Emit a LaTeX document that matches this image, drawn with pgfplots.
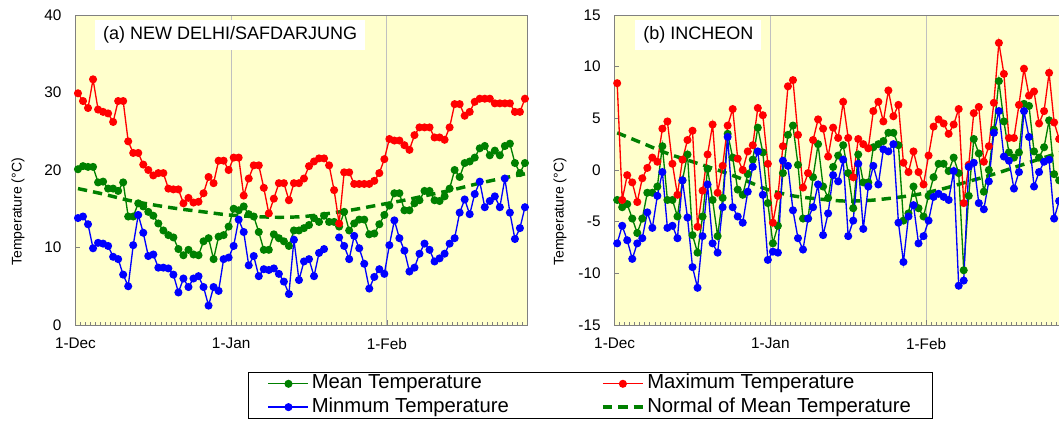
\documentclass[border=0pt]{standalone}
\usepackage{fontspec}
\setmainfont{Liberation Sans}
\usepackage{pgfplots}
\pgfplotsset{compat=1.18}
\usepackage{pgfplotstable}

\definecolor{bgy}{RGB}{255,255,204}
\definecolor{cgreen}{RGB}{0,128,0}
\definecolor{cred}{RGB}{255,0,0}
\definecolor{cblue}{RGB}{0,0,255}
\definecolor{framegray}{RGB}{128,128,128}
\definecolor{gridgray}{RGB}{192,192,192}

\pgfplotstableread{
d max mean min
0 29.9 20.1 13.8
1 28.9 20.5 14.0
2 28.0 20.4 13.0
3 31.7 20.4 9.9
4 27.8 18.4 10.6
5 27.5 18.5 10.5
6 27.3 17.6 10.2
7 26.2 17.6 8.8
8 28.9 17.3 8.5
9 28.9 18.4 6.5
10 23.7 14.0 5.0
11 22.2 14.0 10.3
12 22.2 15.7 14.2
13 20.7 15.3 11.9
14 20.0 14.6 8.9
15 19.3 14.1 9.1
16 19.6 13.1 7.4
17 19.6 12.2 7.4
18 17.6 11.6 7.3
19 17.5 11.3 6.5
20 17.5 9.8 4.2
21 15.7 9.0 6.0
22 16.4 9.7 4.9
23 15.8 9.1 6.0
24 15.9 9.0 6.3
25 17.0 10.8 4.9
26 19.1 11.2 2.5
27 18.3 8.5 4.9
28 21.2 11.4 4.4
29 21.2 11.6 8.5
30 20.0 12.7 8.7
31 21.6 15.0 10.2
32 21.6 14.8 13.6
33 16.7 15.3 12.0
34 18.9 14.3 7.7
35 20.6 14.0 8.9
36 20.6 12.0 6.3
37 17.7 9.7 7.2
38 14.4 9.7 7.1
39 16.3 11.7 7.3
40 18.3 11.2 6.6
41 18.3 10.8 5.6
42 16.1 10.2 4.0
43 18.3 12.2 11.0
44 18.3 12.2 5.8
45 18.9 12.5 8.2
46 20.5 12.9 8.5
47 21.1 13.8 6.3
48 21.5 13.3 9.3
49 21.5 14.1 9.8
50 20.6 13.3 nan
51 17.4 13.3 nan
52 13.1 12.7 11.3
53 19.7 14.6 10.2
54 19.7 12.2 8.5
55 18.2 13.1 11.5
56 18.2 13.6 9.9
57 18.2 13.6 7.9
58 18.2 11.7 4.7
59 18.6 11.8 6.2
60 19.6 13.0 7.2
61 21.4 14.2 6.6
62 24.0 15.4 10.3
63 23.8 17.0 13.5
64 23.8 17.0 11.2
65 23.2 14.8 9.6
66 22.6 14.8 6.9
67 24.5 15.7 7.4
68 25.5 16.1 9.2
69 25.5 17.3 10.5
70 25.5 17.3 9.7
71 24.2 16.1 8.2
72 24.2 16.0 8.6
73 23.9 16.6 9.2
74 25.5 17.6 10.5
75 28.5 20.0 11.2
76 28.5 19.1 14.5
77 27.0 20.9 16.2
78 27.5 21.1 14.3
79 28.8 21.6 16.9
80 29.2 22.8 18.5
81 29.2 23.1 15.2
82 29.2 21.9 16.0
83 28.6 22.5 16.6
84 28.6 21.9 15.2
85 28.6 23.1 18.9
86 28.6 23.4 14.5
87 27.5 20.9 11.1
88 27.5 19.6 12.5
89 29.2 20.9 15.2
}\delhi

\pgfplotstableread{
d norm
0 17.6
5 16.9
10 16.1
15 15.5
20 15.0
25 14.6
30 14.2
35 14.0
40 13.9
45 14.0
50 14.4
55 14.9
60 15.5
65 16.1
70 16.8
75 17.5
80 18.3
85 19.0
89 19.5
}\delhinorm

\pgfplotstableread{
d max mean min
0 8.4 -2.9 -7.1
1 -2.9 -3.6 -5.4
2 -0.5 -3.3 -6.8
3 -1.2 -4.7 -8.6
4 -3.1 -6.1 -7.1
5 -0.8 -4.7 -6.6
6 0.2 -2.2 -4.1
7 1.2 -2.2 -5.6
8 0.8 -1.6 -2.5
9 4.0 2.3 -0.2
10 4.7 -2.9 -5.6
11 0.6 -2.9 -5.4
12 -2.4 -4.5 -6.6
13 1.0 -1.0 -1.0
14 2.9 1.5 -4.6
15 3.8 -6.3 -9.4
16 -5.5 -8.0 -11.4
17 -2.0 -4.5 -6.4
18 1.5 0.1 -1.4
19 4.4 -2.9 -7.1
20 -2.2 -6.4 -8.0
21 0.4 -2.7 -3.6
22 4.3 3.5 3.2
23 5.9 1.2 -3.6
24 1.1 -1.9 -4.5
25 0.0 -2.4 -5.1
26 1.8 -0.4 -2.1
27 2.4 1.0 0.3
28 6.0 4.1 1.8
29 5.3 1.7 -2.4
30 0.6 -3.2 -8.7
31 -5.1 -7.1 -7.9
32 -2.5 -5.4 -8.0
33 2.3 -0.3 0.9
34 8.1 3.4 0.4
35 8.7 4.3 -3.9
36 3.4 0.5 -6.6
37 -1.7 -4.7 -7.7
38 -0.3 -4.7 -4.7
39 2.9 -0.7 -3.6
40 4.9 2.5 -1.4
41 4.0 -1.6 -6.3
42 1.3 -2.7 -4.2
43 4.1 0.3 -0.5
44 3.1 1.4 -1.1
45 6.6 2.4 1.0
46 3.1 -0.3 -6.4
47 -0.7 -3.7 -4.9
48 3.0 1.5 0.6
49 2.5 -1.2 -5.7
50 2.1 -1.2 -1.6
51 5.7 2.2 0.4
52 6.6 2.5 -1.4
53 4.7 2.8 2.0
54 7.7 3.6 1.8
55 5.2 3.6 2.5
56 6.3 2.4 -5.1
57 0.7 -4.9 -8.9
58 -0.2 -4.2 -4.5
59 1.8 -1.6 -3.4
60 -0.2 -3.7 -7.1
61 -1.4 -4.5 -6.4
62 1.4 -2.5 -4.9
63 4.2 -0.7 -2.6
64 4.9 0.6 -2.3
65 4.5 0.6 -2.6
66 3.5 -0.1 -2.9
67 4.4 1.2 -0.1
68 5.9 -0.3 -11.2
69 -3.2 -9.7 -10.7
70 0.5 -2.5 0.3
71 5.5 3.0 0.7
72 6.1 1.6 -3.2
73 0.8 -2.1 -3.8
74 2.3 0.0 -1.1
75 6.5 3.9 3.6
76 12.3 8.6 5.7
77 9.3 4.7 1.3
78 3.1 1.7 0.9
79 3.1 1.2 -1.8
80 6.3 1.7 -0.2
81 9.8 6.4 5.7
82 7.2 6.2 3.2
83 7.6 1.8 -1.6
84 4.5 1.2 -0.2
85 5.7 2.2 0.8
86 9.4 4.8 1.0
87 4.6 -0.4 -4.7
88 3.0 -1.0 -3.0
89 5.0 1.0 -1.5
}\incheon

\pgfplotstableread{
d norm
0 3.6
5 2.6
10 1.6
15 0.8
20 0.0
25 -0.9
30 -1.9
35 -2.5
40 -2.8
45 -3.0
50 -2.95
55 -2.7
60 -2.35
65 -1.8
70 -1.1
75 -0.4
80 0.4
85 1.2
89 1.8
}\incheonnorm

\pgfplotsset{
  panel/.style={
    scale only axis, width=339pt, height=232.5pt,
    xmin=0, xmax=90,
    axis background/.style={fill=bgy},
    axis line style={draw=framegray, line width=0.7pt},
    xtick={0,31,62}, xticklabels={1-Dec,1-Jan,1-Feb},
    minor xtick={1,2,...,89},
    xmajorgrids, major grid style={draw=gridgray, line width=0.7pt},
    tick align=inside, tick pos=left,
    major tick length=3.5pt, minor tick length=2pt,
    tick style={draw=framegray, line width=0.5pt},
    ticklabel style={font=\fontsize{11.5}{13}\selectfont, black},
    xticklabel style={yshift=-6.5pt},
    yticklabel style={xshift=-7pt},
    /pgf/number format/assume math mode=true,
    ylabel={Temperature (°C)},
    unbounded coords=jump,
    legend image code/.code={\draw[mark repeat=2,mark phase=2,##1] plot coordinates {(0pt,0pt) (15pt,0pt) (30pt,0pt)};},
  },
  tmean/.style={cgreen, line width=1pt, mark=*, mark size=2.5pt, mark options={solid, fill=cgreen, draw=cgreen}},
  tmax/.style={cred, line width=1pt, mark=*, mark size=2.5pt, mark options={solid, fill=cred, draw=cred}},
  tmin/.style={cblue, line width=1pt, mark=*, mark size=2.5pt, mark options={solid, fill=cblue, draw=cblue}},
  tnorm/.style={cgreen, line width=2.6pt, dash pattern=on 7pt off 4.5pt, no marks},
}

\begin{document}
\begin{tikzpicture}
\begin{axis}[panel,
  at={(56.6pt,75pt)}, anchor=south west,
  ymin=0, ymax=40, ytick={0,10,20,30,40},
  ylabel style={font=\fontsize{10.5}{12}\selectfont, at={(axis description cs:-0.127,0.365)}, anchor=center},
  legend columns=2,
  legend style={at={(0.3816,-0.1516)}, anchor=north west, draw=black, line width=0.8pt, fill=white,
    font=\fontsize{15.2}{17}\selectfont, inner xsep=14.5pt, inner ysep=1.2pt, row sep=3pt,
    nodes={inner ysep=0pt, text height=11pt, text depth=3.5pt},
    legend cell align=left},
]
\addplot[tnorm, smooth, forget plot] table[x expr=\thisrow{d}+0.5, y=norm] {\delhinorm};
\addplot[tmean] table[x expr=\thisrow{d}+0.5, y=mean] {\delhi};
\addlegendentry{\makebox[215pt][l]{Mean Temperature}}
\addplot[tmax] table[x expr=\thisrow{d}+0.5, y=max] {\delhi};
\addlegendentry{Maximum Temperature}
\addplot[tmin] table[x expr=\thisrow{d}+0.5, y=min] {\delhi};
\addlegendentry{\makebox[215pt][l]{Minmum Temperature}}
\addlegendimage{tnorm}
\addlegendentry{Normal of Mean Temperature}
\node[fill=white, anchor=north west, minimum height=22.5pt, inner xsep=6pt,
  font=\fontsize{13.5}{15}\selectfont] at (rel axis cs:0.043,0.984) {(a)~NEW DELHI/SAFDARJUNG};
\end{axis}

\begin{axis}[panel,
  at={(461pt,75pt)}, anchor=south west,
  ymin=-15, ymax=15, ytick={-15,-10,...,15},
  ylabel style={font=\fontsize{10.5}{12}\selectfont, at={(axis description cs:-0.121,0.365)}, anchor=center},
]
\addplot[tnorm, smooth] table[x expr=\thisrow{d}+0.5, y=norm] {\incheonnorm};
\addplot[tmean] table[x expr=\thisrow{d}+0.5, y=mean] {\incheon};
\addplot[tmax] table[x expr=\thisrow{d}+0.5, y=max] {\incheon};
\addplot[tmin] table[x expr=\thisrow{d}+0.5, y=min] {\incheon};
\node[fill=white, anchor=north west, minimum height=22.5pt, inner xsep=6pt,
  font=\fontsize{13.5}{15}\selectfont] at (rel axis cs:0.045,0.984) {(b)~INCHEON};
\end{axis}
\pgfresetboundingbox
\path (0pt,0pt) rectangle (794.25pt,318.75pt);
\end{tikzpicture}
\end{document}
